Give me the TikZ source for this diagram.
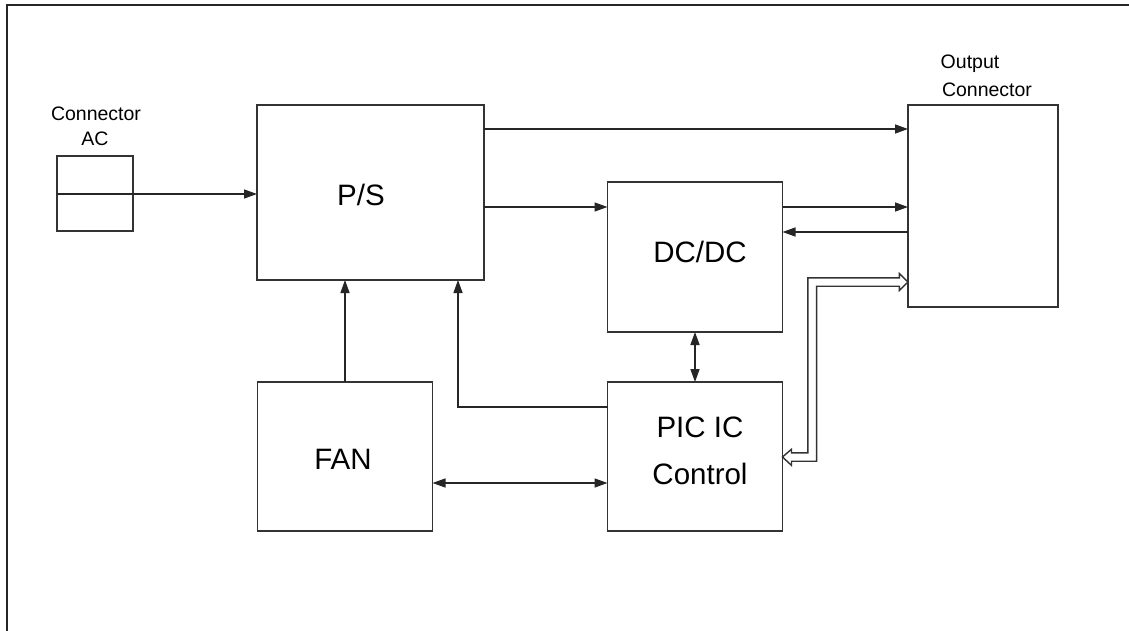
\documentclass[tikz,border=0pt]{standalone}
\usepackage{fontspec}
\setmainfont{Liberation Sans}
\usetikzlibrary{arrows.meta,calc}
\tikzset{
  box/.style={draw=black!80, line width=1.5pt, inner sep=0pt, outer sep=0pt},
  big/.style={font=\fontsize{29.5}{48}\selectfont, align=center},
  small/.style={font=\fontsize{19.5}{24}\selectfont, align=center},
  tip/.tip={Triangle[length=13pt,width=9pt]},
  conn/.style={draw=black!85, line width=1.4pt, -tip},
  bconn/.style={draw=black!85, line width=1.4pt, tip-tip},
  dblout/.style={draw=black!80, line width=1.4pt, line join=miter, fill=white},
}
\begin{document}
\begin{tikzpicture}[x=1pt, y=-1pt]
\useasboundingbox (0,0) rectangle (1129,631);
\fill[white] (0,0) rectangle (1129,631);
% frame
\draw[black!85, line width=2.4pt] (7,640) -- (7,5) -- (1140,5);

% boxes
\node[box, minimum width=76pt, minimum height=75pt] (ac) at (95,193.5) {};
\node[box, minimum width=227pt, minimum height=175pt] (ps) at (370.5,192.5) {};
\node[box, minimum width=175pt, minimum height=150pt] (dc) at (695,257) {};
\node[box, minimum width=150pt, minimum height=202pt] (out) at (983,206) {};
\node[box, minimum width=175pt, minimum height=149pt] (fan) at (345,456.5) {};
\node[box, minimum width=175pt, minimum height=149pt] (pic) at (695,456.5) {};

% texts
\node[small] (aclbl1) at (96,114) {Connector};
\node[small] (aclbl2) at (95,139) {AC};
\node[small] (outlbl1) at (970,64) {Output};
\node[small] (outlbl2) at (987,90) {Connector};
\node[big] (pstxt) at (361,195) {P/S};
\node[big] (dctxt) at (700,252) {DC/DC};
\node[big] (fantxt) at (343,459) {FAN};
\node[big] (pictxt1) at (700,427) {PIC IC};
\node[big] (pictxt2) at (700,474) {Control};

% level coordinates
\coordinate (y128) at (0,129);
\coordinate (y194) at (0,194);
\coordinate (y207) at (0,207);
\coordinate (y232) at (0,232);
\coordinate (y282) at (0,282);
\coordinate (y407) at (0,407);
\coordinate (y457) at (0,457);
\coordinate (y483) at (0,483);
\coordinate (x345) at (345,0);
\coordinate (x458) at (458,0);
\coordinate (x695) at (695,0);

% connectors
\draw[conn] (ac.west |- y194) -- (ps.west |- y194);
\draw[conn] (ps.east |- y128) -- (out.west |- y128);
\draw[conn] (ps.east |- y207) -- (dc.west |- y207);
\draw[conn] (dc.east |- y207) -- (out.west |- y207);
\draw[conn] (out.west |- y232) -- (dc.east |- y232);
\draw[bconn] (x695 |- dc.south) -- (x695 |- pic.north);
\draw[conn] (x345 |- fan.north) -- (x345 |- ps.south);
\draw[conn] (pic.west |- y407) -- (x458 |- y407) -- (x458 |- ps.south);
\draw[bconn] (fan.east |- y483) -- (pic.west |- y483);

% double-line bus arrow between PIC and Output connector
\coordinate (tR) at (out.west |- y282);
\coordinate (tL) at (pic.east |- y457);
\draw[dblout] (tR) -- ++(-8.7,-8.5) -- ++(0,4.3) -- (807.8,277.8) -- (807.8,452.8)
  -- ($(tL)+(9,-4.2)$) -- ++(0,-3.6) -- (tL) -- ++(9,8.4) -- ++(0,-4.1)
  -- (816.6,461.2) -- (816.6,286.2) -- ($(tR)+(-8.7,4.2)$) -- ++(0,4.3) -- cycle;
\end{tikzpicture}
\end{document}
